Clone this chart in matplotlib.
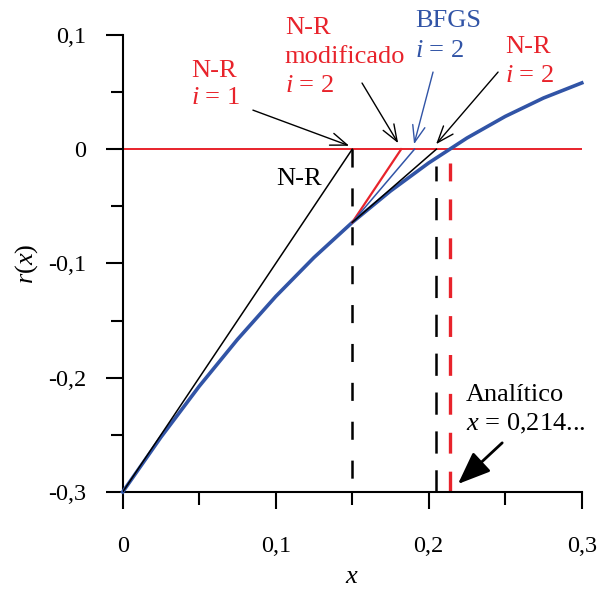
import matplotlib
matplotlib.use("Agg")
import matplotlib.pyplot as plt
from matplotlib.ticker import MultipleLocator, FixedLocator

plt.rcParams['font.family'] = ['Liberation Serif', 'DejaVu Serif']
plt.rcParams['mathtext.fontset'] = 'custom'
plt.rcParams['mathtext.rm'] = 'Liberation Serif'
plt.rcParams['mathtext.it'] = 'Liberation Serif:italic'
plt.rcParams['lines.scale_dashes'] = False

# ---- data ----
x_curve = [0.0, 0.025, 0.05, 0.075, 0.1, 0.125, 0.15, 0.175, 0.2, 0.225, 0.25, 0.275, 0.3]
r_curve = [-0.300, -0.252, -0.2075, -0.1665, -0.1289, -0.0948, -0.0641, -0.0366, -0.012,
           0.0098, 0.0287, 0.0448, 0.058]

x0, r0 = 0.0, -0.3          # starting point
x1, r1 = 0.15, -0.0641      # N-R i = 1 result and residual there
x_nr2 = 0.205               # N-R i = 2
x_mod2 = 0.182              # modified N-R i = 2
x_bfgs2 = 0.1907            # BFGS i = 2
x_exact = 0.214             # analytic root

xticks_major = [0.0, 0.1, 0.2, 0.3]
xtick_labels = ['0', '0,1', '0,2', '0,3']
yticks_major = [-0.3, -0.2, -0.1, 0.0, 0.1]
ytick_labels = ['-0,3', '-0,2', '-0,1', '0', '0,1']

RED = '#E8232B'
BLUE = '#3154A6'

fig = plt.figure(figsize=(5.97, 5.89), dpi=100)
ax = fig.add_axes([0.2055, 0.1647, 0.769, 0.776])
ax.set_xlim(0, 0.3)
ax.set_ylim(-0.3, 0.1)

for s in ['top', 'right']:
    ax.spines[s].set_visible(False)
for s in ['left', 'bottom']:
    ax.spines[s].set_linewidth(1.5)

ax.xaxis.set_major_locator(FixedLocator(xticks_major))
ax.set_xticklabels(xtick_labels)
ax.yaxis.set_major_locator(FixedLocator(yticks_major))
ax.set_yticklabels(ytick_labels)
ax.xaxis.set_minor_locator(MultipleLocator(0.05))
ax.yaxis.set_minor_locator(MultipleLocator(0.05))
ax.tick_params(which='major', direction='out', length=12, width=1.5, labelsize=17.5, pad=14)
ax.tick_params(axis='x', which='major', pad=20)
ax.tick_params(which='minor', direction='out', length=9, width=1.5)

ax.set_xlabel('$x$', fontsize=19, labelpad=6)
ax.set_ylabel('$r$($x$)', fontsize=19, labelpad=6)

# zero line
ax.plot([0, 0.3], [0, 0], color=RED, lw=1.4, zorder=2)

# vertical dashed lines
ax.plot([x1, x1], [0, -0.3], color='black', lw=1.8, dashes=(13, 15), zorder=2)
ax.plot([x_nr2, x_nr2], [-0.3, r0 + (0 - r0) * 0.95], color='black', lw=1.8, dashes=(16, 12), zorder=2)
ax.plot([x_exact, x_exact], [-0.3, r0 + (0 - r0) * 0.96], color=RED, lw=2.4, dashes=(15, 13), zorder=2)

# curve
ax.plot(x_curve, r_curve, color=BLUE, lw=2.6, zorder=3, clip_on=False,
        solid_joinstyle='round')

# tangents / secants
ax.plot([x0, x1], [r0, 0], color='black', lw=1.1, zorder=4)
ax.plot([x1, x_mod2], [r1, 0], color=RED, lw=1.6, zorder=4)
ax.plot([x1, x_bfgs2], [r1, 0], color=BLUE, lw=1.1, zorder=4)
ax.plot([x1, x_nr2], [r1, 0], color='black', lw=1.1, zorder=4)

FS = 19
def txt(x, y, s, color):
    ax.text(x, y, s, color=color, fontsize=FS, ha='left', va='baseline')

txt(0.0446, 0.0634, 'N-R', RED)
txt(0.0446, 0.0395, '$i$ = 1', RED)
txt(0.106, 0.1010, 'N-R', RED)
txt(0.106, 0.0754, 'modificado', RED)
txt(0.106, 0.0500, '$i$ = 2', RED)
txt(0.191, 0.1070, 'BFGS', BLUE)
txt(0.191, 0.0810, '$i$ = 2', BLUE)
txt(0.250, 0.0842, 'N-R', RED)
txt(0.250, 0.0590, '$i$ = 2', RED)
txt(0.1002, -0.0316, 'N-R', 'black')
txt(0.2244, -0.2200, 'Analítico', 'black')
txt(0.2244, -0.2465, '$x$ = 0,214...', 'black')

thin = dict(arrowstyle='->,head_length=0.8,head_width=0.3', lw=1.0,
            shrinkA=0, shrinkB=0, mutation_scale=15)
ax.annotate('', xy=(0.148, 0.003), xytext=(0.0851, 0.0342),
            arrowprops=dict(color='black', **thin))
ax.annotate('', xy=(0.180, 0.0053), xytext=(0.1564, 0.0579),
            arrowprops=dict(color='black', **thin))
ax.annotate('', xy=(0.1904, 0.0044), xytext=(0.2028, 0.0675),
            arrowprops=dict(color=BLUE, **thin))
ax.annotate('', xy=(0.2048, 0.0044), xytext=(0.2453, 0.0675),
            arrowprops=dict(color='black', **thin))
ax.annotate('', xy=(0.2191, -0.293), xytext=(0.248, -0.257),
            arrowprops=dict(arrowstyle='-|>,head_length=1.0,head_width=0.4',
                            color='black', lw=2.0, shrinkA=0, shrinkB=0,
                            mutation_scale=20))

fig.savefig('out.png', dpi=100)
